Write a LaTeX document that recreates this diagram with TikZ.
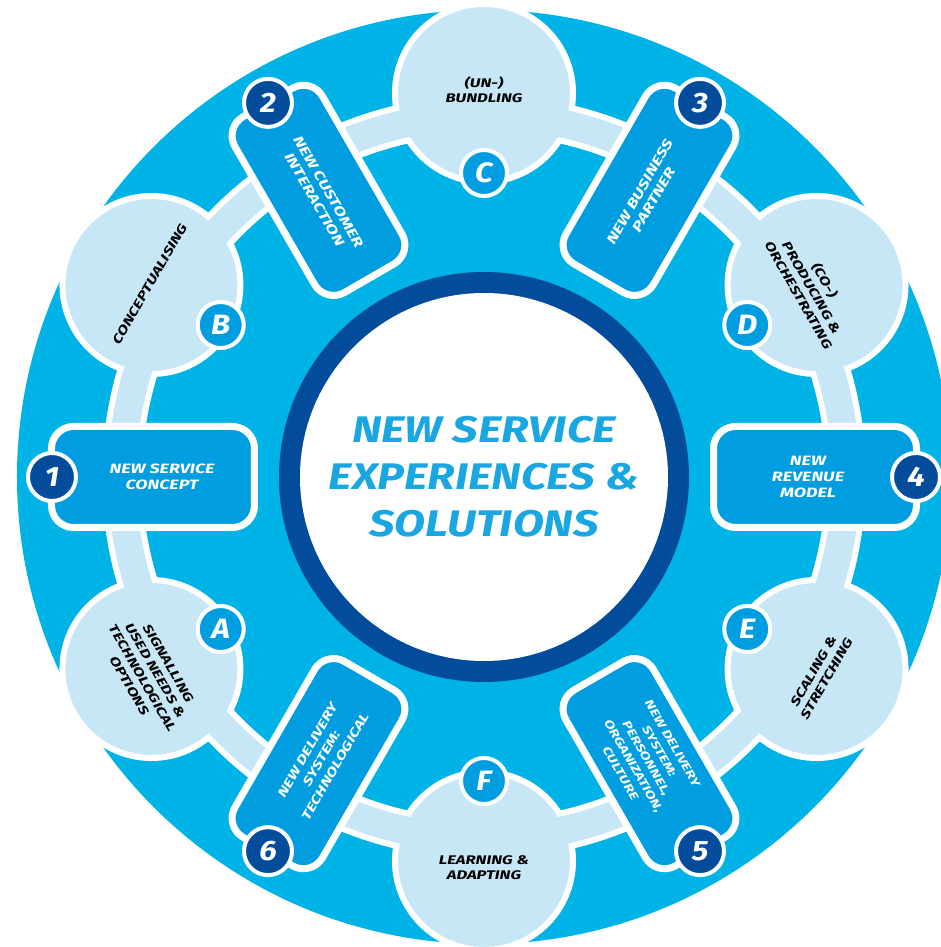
\documentclass[tikz,border=0pt]{standalone}
\usepackage{fontspec}
\newfontfamily\dfont{Fira Sans}[FakeStretch=1.12]
\newfontfamily\wfont{Fira Sans}[FakeStretch=1.33]
\newfontfamily\tfont{Fira Sans}[FakeStretch=1.22]
\definecolor{outerblue}{HTML}{00B3E6}
\definecolor{boxblue}{HTML}{009EE0}
\definecolor{palecol}{HTML}{C8E7F6}
\definecolor{navy}{HTML}{034C9C}
\definecolor{titleblue}{HTML}{19A6E1}
\begin{document}
\begin{tikzpicture}[x=1pt,y=1pt,
  palecirc/.style={circle,fill=palecol,draw=white,line width=6pt,minimum size=178pt,inner sep=0pt},
  paletext/.style={align=center,text=black,font=\wfont\bfseries\itshape\fontsize{12.5}{15}\selectfont,inner sep=0pt},
  stepbox/.style={rectangle,rounded corners=22pt,fill=boxblue,draw=white,line width=7pt,minimum width=203pt,minimum height=101pt,inner sep=0pt},
  boxtext/.style={align=center,text=white,font=\wfont\bfseries\itshape\fontsize{13.5}{16}\selectfont,inner sep=0pt},
  numbadge/.style={circle,fill=navy,draw=white,line width=4pt,minimum size=48pt,inner sep=0pt,text=white,font=\dfont\bfseries\itshape\fontsize{28}{28}\selectfont},
  letbadge/.style={circle,fill=boxblue,draw=white,line width=4pt,minimum size=46pt,inner sep=0pt,text=white,font=\dfont\bfseries\itshape\fontsize{28}{28}\selectfont},
  titletext/.style={align=center,text=titleblue,font=\tfont\bfseries\itshape\fontsize{37}{47}\selectfont,inner sep=0pt}
]
\useasboundingbox (-484,-470) rectangle (456,477);
% outer disc
\fill[outerblue] (0,0) circle (467);
% band white edges
\draw[white,line width=40pt] (0,0) circle (362);
% pale circles
\node[palecirc] (cA) at (210:384) {};
\node[palecirc] (cB) at (150:384) {};
\node[palecirc] (cC) at (90:384) {};
\node[palecirc] (cD) at (30:384) {};
\node[palecirc] (cE) at (-30:384) {};
\node[palecirc] (cF) at (-90:384) {};
% pale band
\draw[palecol,line width=28pt] (0,0) circle (362);
% centre
\fill[navy] (0,0) circle (205);
\fill[white] (0,0) circle (184);
\node[titletext] (title) at (0,0) {NEW SERVICE\\EXPERIENCES \&\\SOLUTIONS};
% texts in pale circles
\node[paletext,rotate=-60] (tA) at (210.5:389) {SIGNALLING\\USED NEEDS \&\\TECHNOLOGICAL\\OPTIONS};
\node[paletext,rotate=60] (tB) at (150:386) {CONCEPTUALISING};
\node[paletext] (tC) at (90:387) {(UN-)\\BUNDLING};
\node[paletext,rotate=-60] (tD) at (30:379) {(CO-)\\PRODUCING \&\\ORCHESTRATING};
\node[paletext,rotate=60] (tE) at (-30.5:390) {SCALING \&\\STRETCHING};
\node[paletext] (tF) at (-90:391) {LEARNING \&\\ADAPTING};
% boxes
\node[stepbox] (b1) at (180:331) {};
\node[stepbox,rotate=-60] (b2) at (120:331) {};
\node[stepbox,rotate=60] (b3) at (60:331) {};
\node[stepbox] (b4) at (0:331) {};
\node[stepbox,rotate=-60] (b5) at (-60:331) {};
\node[stepbox,rotate=60] (b6) at (-120:331) {};
\node[boxtext] (x1) at (180:322) {NEW SERVICE\\CONCEPT};
\node[boxtext,rotate=-60] (x2) at (120:325) {NEW CUSTOMER\\INTERACTION};
\node[boxtext,rotate=60] (x3) at (60:325) {NEW BUSINESS\\PARTNER};
\node[boxtext] (x4) at (0:324) {NEW\\REVENUE\\MODEL};
\node[boxtext,rotate=-60,font=\wfont\bfseries\itshape\fontsize{11.5}{15}\selectfont] (x5) at (-60:325) {NEW DELIVERY\\SYSTEM:\\PERSONNEL,\\ORGANIZATION,\\CULTURE};
\node[boxtext,rotate=60,font=\wfont\bfseries\itshape\fontsize{12.5}{16}\selectfont] (x6) at (-120:325) {NEW DELIVERY\\SYSTEM:\\TECHNOLOGICAL};
% number badges
\node[numbadge] (n1) at (180:432) {1};
\node[numbadge] (n2) at (120:432) {2};
\node[numbadge] (n3) at (60:432) {3};
\node[numbadge] (n4) at (0:432) {4};
\node[numbadge] (n5) at (-60:432) {5};
\node[numbadge] (n6) at (-120:432) {6};
% letter badges
\node[letbadge] (lA) at (210:304) {A};
\node[letbadge] (lB) at (150:304) {B};
\node[letbadge] (lC) at (90:304) {C};
\node[letbadge] (lD) at (30:304) {D};
\node[letbadge] (lE) at (-30:304) {E};
\node[letbadge] (lF) at (-90:304) {F};
\end{tikzpicture}
\end{document}
